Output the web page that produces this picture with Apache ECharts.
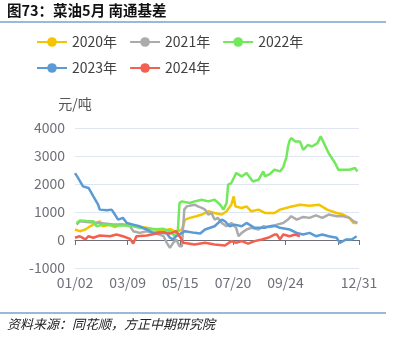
<!DOCTYPE html>
<html><head><meta charset="utf-8">
<script src="https://cdn.jsdelivr.net/npm/echarts@6/dist/echarts.min.js"></script>
<style>html,body{margin:0;padding:0;background:#fff}#c{width:394px;height:338px}</style>
</head><body><div id="c"></div>
<script>
// Category axis: month/day trading dates (holidays removed)
const skipDates = ['01/01','05/01','10/01','10/02','10/03','10/04','10/05','10/06'];
const monthDays = [31,28,31,30,31,30,31,31,30,31,30,31];
const categories = [];
for (let m = 0; m < 12; m++) {
  for (let d = 1; d <= monthDays[m]; d++) {
    const s = String(m + 1).padStart(2, '0') + '/' + String(d).padStart(2, '0');
    if (skipDates.indexOf(s) < 0) categories.push(s);
  }
}
const seriesNames = ['2020年','2021年','2022年','2023年','2024年'];
const yTicks = [-1000, 0, 1000, 2000, 3000, 4000];

const data2020 = [['01/02',375],['01/08',315],['01/15',375],['01/21',490],['01/29',610],['02/02',670],['02/06',490],['02/15',550],['02/21',460],['02/27',550],['03/08',550],['03/20',490],['04/02',435],['04/14',375],['04/23',315],['05/02',400],['05/10',280],['05/17',375],['05/21',730],['05/27',790],['06/04',850],['06/11',910],['06/19',1025],['06/27',965],['07/06',910],['07/12',1025],['07/18',1260],['07/21',1555],['07/23',1200],['07/31',1145],['08/06',1200],['08/12',1025],['08/21',1085],['08/29',965],['09/10',965],['09/17',1085],['09/29',1180],['10/18',1260],['10/30',1225],['11/11',1260],['11/21',1085],['12/03',965],['12/11',910],['12/19',790],['12/24',610],['12/29',610]];

const data2021 = [['01/04',550],['01/08',670],['01/17',640],['02/02',610],['02/19',550],['03/03',550],['03/12',490],['03/16',315],['03/24',255],['04/02',315],['04/10',255],['04/18',195],['04/23',135],['04/27',-100],['05/02',-280],['05/06',-100],['05/10',20],['05/14',-220],['05/17',-220],['05/20',1085],['05/23',1200],['05/25',1260],['06/02',1260],['06/06',1200],['06/11',1145],['06/15',1085],['06/19',910],['06/23',965],['06/27',730],['07/01',790],['07/06',610],['07/12',490],['07/18',610],['07/24',435],['07/27',135],['07/31',255],['08/06',375],['08/12',435],['08/21',375],['08/27',490],['09/04',460],['09/10',490],['09/13',550],['09/21',610],['09/27',730],['10/07',850],['10/14',730],['10/22',825],['10/30',790],['11/07',880],['11/15',790],['11/23',910],['12/03',850],['12/11',850],['12/19',790],['12/24',670],['12/29',610]];

const data2022 = [['01/04',610],['01/08',700],['01/17',680],['01/25',670],['01/29',490],['02/06',550],['02/19',520],['03/08',520],['03/16',490],['03/24',435],['04/02',400],['04/10',375],['04/23',400],['05/02',315],['05/08',135],['05/12',375],['05/14',1320],['05/17',1380],['05/27',1320],['06/02',1380],['06/11',1440],['06/19',1380],['06/27',1440],['07/04',1260],['07/08',1085],['07/12',1320],['07/14',1975],['07/18',2035],['07/24',2390],['07/31',2270],['08/06',2390],['08/14',2090],['08/21',2150],['08/27',2450],['08/29',2270],['09/04',2350],['09/10',2510],['09/17',2450],['09/21',2600],['09/25',2950],['09/27',3340],['09/29',3550],['10/07',3640],['10/12',3520],['10/18',3520],['10/22',3220],['10/28',3400],['11/02',3340],['11/09',3460],['11/13',3700],['11/17',3460],['11/23',3100],['12/01',2750],['12/05',2510],['12/11',2510],['12/19',2510],['12/26',2570],['12/29',2450]];

const data2023 = [['01/02',2390],['01/06',2210],['01/12',1915],['01/19',1860],['01/25',1560],['01/31',1265],['02/02',1085],['02/11',1060],['02/17',1085],['02/21',910],['02/25',730],['03/03',790],['03/08',610],['03/16',550],['03/24',490],['04/02',375],['04/10',255],['04/18',280],['04/27',230],['05/02',80],['05/06',20],['05/10',135],['05/17',255],['05/21',315],['06/02',255],['06/09',230],['06/15',375],['06/27',490],['07/06',730],['07/10',670],['07/16',490],['07/22',550],['07/31',490],['08/06',610],['08/16',435],['08/29',435],['09/04',490],['09/10',515],['09/17',435],['09/29',375],['10/14',255],['10/22',195],['10/30',255],['11/07',135],['11/15',195],['11/23',135],['12/03',80],['12/07',-100],['12/15',20],['12/22',20],['12/28',135]];

const data2024 = [['01/02',80],['01/08',135],['01/15',20],['01/19',135],['01/25',80],['02/02',160],['02/15',135],['02/23',195],['03/03',135],['03/12',40],['03/16',-125],['03/20',135],['04/02',160],['04/14',230],['04/23',280],['05/02',230],['05/10',315],['05/14',135],['05/19',-100],['05/21',-40],['06/02',-160],['06/15',-100],['06/27',-160],['07/10',-195],['07/18',-40],['07/24',-100],['07/31',-40],['08/08',-130],['08/16',-40],['08/25',20],['09/02',80],['09/10',195],['09/13',195],['09/17',20],['09/21',195],['09/29',135],['10/12',195],['10/18',135]];

const seriesData = [data2020, data2021, data2022, data2023, data2024];
const colors = ['#F5C400','#ABABAB','#72E85C','#5B9BD5','#F2604F'];

const chart = echarts.init(document.getElementById('c'));
const lastIdx = categories.length - 1;
const FONT = '"Noto Sans CJK SC", "Noto Sans", sans-serif';
chart.setOption({
  animation: false,
  color: colors,
  textStyle: { fontFamily: FONT },
  graphic: [
    { type: 'text', left: 7, top: 3, style: { text: '图73：菜油5月 南通基差', font: 'bold 14.5px ' + FONT, fill: '#111' } },
    { type: 'line', shape: { x1: 0, y1: 22, x2: 386, y2: 22 }, style: { stroke: '#3A75A8', lineWidth: 1.2 } },
    { type: 'line', shape: { x1: 0, y1: 313, x2: 386, y2: 313 }, style: { stroke: '#3A75A8', lineWidth: 1.2 } },
    { type: 'text', left: 7, top: 318, style: { text: '资料来源：同花顺，方正中期研究院', font: 'italic 13px ' + FONT, fill: '#222' } }
  ],
  legend: {
    left: 31, top: 30, width: 300, itemWidth: 30, itemHeight: 12, itemGap: 12,
    textStyle: { fontSize: 14, color: '#404040', fontFamily: FONT },
    data: seriesNames
  },
  grid: { left: 75, right: 35, top: 128, bottom: 70 },
  xAxis: {
    type: 'category', data: categories, boundaryGap: false,
    axisLine: { lineStyle: { color: '#6E7079' } },
    axisTick: { show: true, interval: (i) => i % 66 === 0 || i === lastIdx, lineStyle: { color: '#6E7079' }, length: 5 },
    axisLabel: { interval: (i) => (i % 66 === 0 && i <= 264) || i === lastIdx, fontSize: 14, color: '#6E7079', margin: 8, showMaxLabel: true }
  },
  yAxis: {
    type: 'value', min: yTicks[0], max: yTicks[yTicks.length - 1], interval: 1000,
    name: '元/吨', nameGap: 17, nameTextStyle: { fontSize: 14, color: '#555', align: 'center' },
    axisLabel: { fontSize: 14, color: '#6E7079', margin: 10, formatter: (v) => String(v) },
    splitLine: { lineStyle: { color: '#E0E6F1' } }
  },
  series: seriesNames.map((n, k) => ({
    name: n, type: 'line', data: seriesData[k], symbol: 'circle', symbolSize: 10, showSymbol: false,
    lineStyle: { width: 2.5 }, emphasis: { disabled: true }
  }))
});
</script></body></html>
